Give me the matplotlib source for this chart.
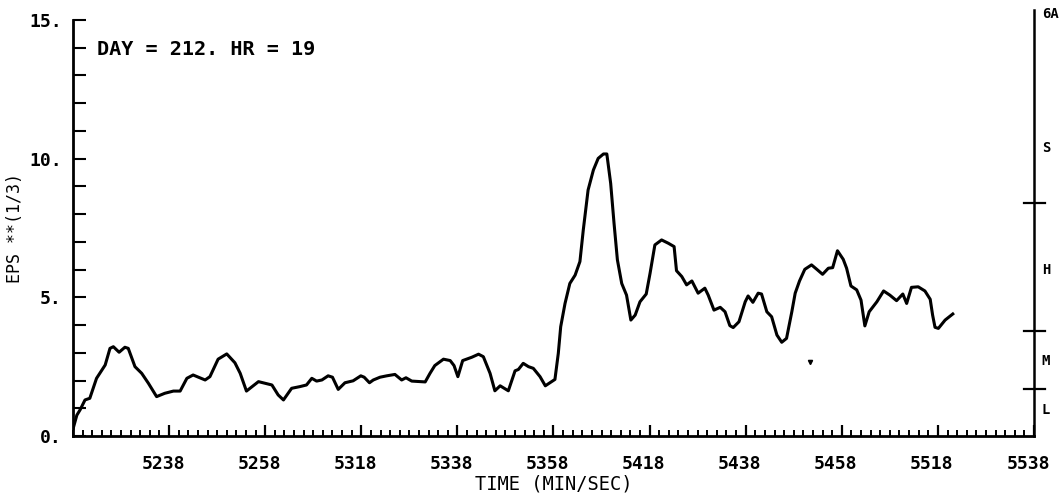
import matplotlib
matplotlib.use("Agg")
import matplotlib.pyplot as plt
import matplotlib.transforms as mtransforms
from matplotlib.ticker import FixedLocator, MultipleLocator

# time in seconds after 52:18, eps**(1/3)
t_sec = [0, 0.8, 1.5, 2.5, 3.5, 4.9, 6.7, 7.7, 8.4, 9.6,
         10.8, 11.5, 12.9, 14.3, 15.7, 17.4, 19.1, 20.9, 22.3, 23.7,
         25.0, 27.5, 28.5, 30.2, 32.0, 33.7, 34.8, 36.1, 38.6, 41.4,
         42.7, 43.8, 45.5, 47.2, 48.6, 49.7, 50.7, 51.8, 53.1, 54.0,
         55.2, 56.6, 58.3, 59.9, 60.6, 61.7, 62.5, 63.9, 65.3, 67.0,
         68.4, 69.3, 70.5, 73.3, 74.3, 75.3, 77.1, 78.5, 79.3, 80.1,
         81.1, 83.0, 84.4, 85.4, 86.8, 87.8, 88.9, 90.6, 92.0, 92.7,
         93.7, 94.8, 95.8, 97.2, 98.3, 100.3, 101.0, 101.5, 102.4, 103.4,
         104.5, 105.5, 106.2, 107.2, 108.3, 109.3, 110.4, 111.1, 111.9, 112.6,
         113.3, 114.2, 115.2, 116.1, 117.0, 118.0, 119.3, 120.1, 121.1, 122.5,
         123.9, 125.1, 125.6, 126.7, 127.7, 128.8, 130.1, 131.5, 132.2, 133.4,
         134.7, 135.7, 136.7, 137.4, 138.6, 139.9, 140.5, 141.5, 142.6, 143.3,
         144.4, 145.4, 146.5, 147.5, 148.5, 149.6, 150.3, 151.2, 152.3, 153.7,
         154.8, 156.0, 157.2, 158.1, 159.1, 160.3, 161.0, 161.9, 163.1, 164.0,
         164.8, 165.7, 167.3, 168.7, 170.0, 171.4, 172.7, 173.5, 174.5, 175.9,
         177.3, 178.4, 178.9, 179.4, 180.1, 181.5, 183.1]
eps = [0.25, 0.75, 0.95, 1.3, 1.36, 2.08, 2.56, 3.16, 3.22, 3.02,
       3.2, 3.16, 2.5, 2.26, 1.9, 1.42, 1.54, 1.62, 1.62, 2.08,
       2.2, 2.02, 2.14, 2.77, 2.96, 2.64, 2.26, 1.62, 1.96, 1.84,
       1.48, 1.3, 1.72, 1.78, 1.84, 2.08, 1.98, 2.02, 2.17, 2.12,
       1.68, 1.92, 1.99, 2.17, 2.12, 1.92, 2.02, 2.12, 2.17, 2.22,
       2.02, 2.1, 1.98, 1.95, 2.26, 2.54, 2.77, 2.72, 2.54, 2.14,
       2.72, 2.84, 2.95, 2.86, 2.26, 1.63, 1.81, 1.63, 2.35, 2.4,
       2.62, 2.5, 2.44, 2.14, 1.81, 2.04, 2.98, 3.94, 4.78, 5.5,
       5.8, 6.29, 7.43, 8.87, 9.59, 10.01, 10.17, 10.17, 9.11, 7.67,
       6.35, 5.5, 5.08, 4.18, 4.36, 4.84, 5.12, 5.87, 6.89, 7.07,
       6.95, 6.83, 5.96, 5.75, 5.45, 5.59, 5.15, 5.33, 5.08, 4.54,
       4.64, 4.48, 3.98, 3.91, 4.12, 4.84, 5.05, 4.82, 5.15, 5.12,
       4.48, 4.3, 3.64, 3.38, 3.52, 4.48, 5.15, 5.59, 6.01, 6.17,
       6.01, 5.83, 6.05, 6.07, 6.68, 6.37, 6.05, 5.41, 5.27, 4.9,
       3.97, 4.48, 4.84, 5.23, 5.08, 4.88, 5.12, 4.78, 5.36, 5.38,
       5.23, 4.93, 4.36, 3.92, 3.88, 4.18, 4.4]

# stray blot on the plot
blot_t = [153.3]
blot_v = [2.66]

xtick_pos = [20, 40, 60, 80, 100, 120, 140, 160, 180, 200]
xtick_lab = ["5238", "5258", "5318", "5338", "5358", "5418", "5438", "5458", "5518", "5538"]
ytick_pos = [0, 5, 10, 15]
ytick_lab = ["0.", "5.", "10.", "15."]

# stability class scale on right edge
class_bounds = [8.4, 3.8, 1.7]
class_names = ["6A", "S", "H", "M", "L"]
class_pos = [15.2, 10.4, 6.0, 2.7, 0.95]

plt.rcParams['font.family'] = 'DejaVu Sans Mono'
plt.rcParams['font.weight'] = 'bold'

fig = plt.figure(figsize=(10.64, 4.98), dpi=100)
ax = fig.add_axes([0.0686, 0.1245, 0.9032, 0.8353])

ax.plot(t_sec, eps, color="black", lw=2.2)
ax.plot(blot_t, blot_v, "v", color="black", ms=3)

ax.set_xlim(0, 200)
ax.set_ylim(0, 15)

for s in ["top", "right"]:
    ax.spines[s].set_visible(False)
for s in ["left", "bottom"]:
    ax.spines[s].set_linewidth(2)

ax.xaxis.set_major_locator(FixedLocator(xtick_pos))
ax.set_xticklabels(xtick_lab)
ax.xaxis.set_minor_locator(MultipleLocator(2))
ax.yaxis.set_major_locator(FixedLocator(ytick_pos))
ax.set_yticklabels(ytick_lab)
ax.yaxis.set_minor_locator(MultipleLocator(1))

ax.tick_params(axis="x", which="major", direction="in", length=8, width=1.6, pad=14, labelsize=13)
ax.tick_params(axis="x", which="minor", direction="in", length=4, width=1.4)
ax.tick_params(axis="y", which="both", direction="in", length=9, width=1.5, pad=8, labelsize=13)

# plotter put the time labels a little left of their ticks
shift = mtransforms.ScaledTranslation(-6 / 100, 0, fig.dpi_scale_trans)
for lab in ax.get_xticklabels():
    lab.set_transform(lab.get_transform() + shift)

ax.set_xlabel("TIME (MIN/SEC)", fontsize=13.5, labelpad=1)
ax.set_ylabel("EPS **(1/3)", fontsize=12, fontweight="normal", labelpad=4)

ax.text(0.025, 0.93, "DAY = 212. HR = 19", transform=ax.transAxes, fontsize=14.5, va="center")

# right-hand scale
ax.plot([1, 1], [0, 1.025], transform=ax.transAxes, color="black", lw=1.8, clip_on=False)
trans = mtransforms.blended_transform_factory(ax.transAxes, ax.transData)
for b in class_bounds:
    ax.plot([0.99, 1.011], [b, b], transform=trans, color="black", lw=1.6, clip_on=False)
for name, p in zip(class_names, class_pos):
    ax.text(1.008, p, name, transform=trans, fontsize=10, va="center", ha="left")

fig.savefig("out.png", dpi=100)
